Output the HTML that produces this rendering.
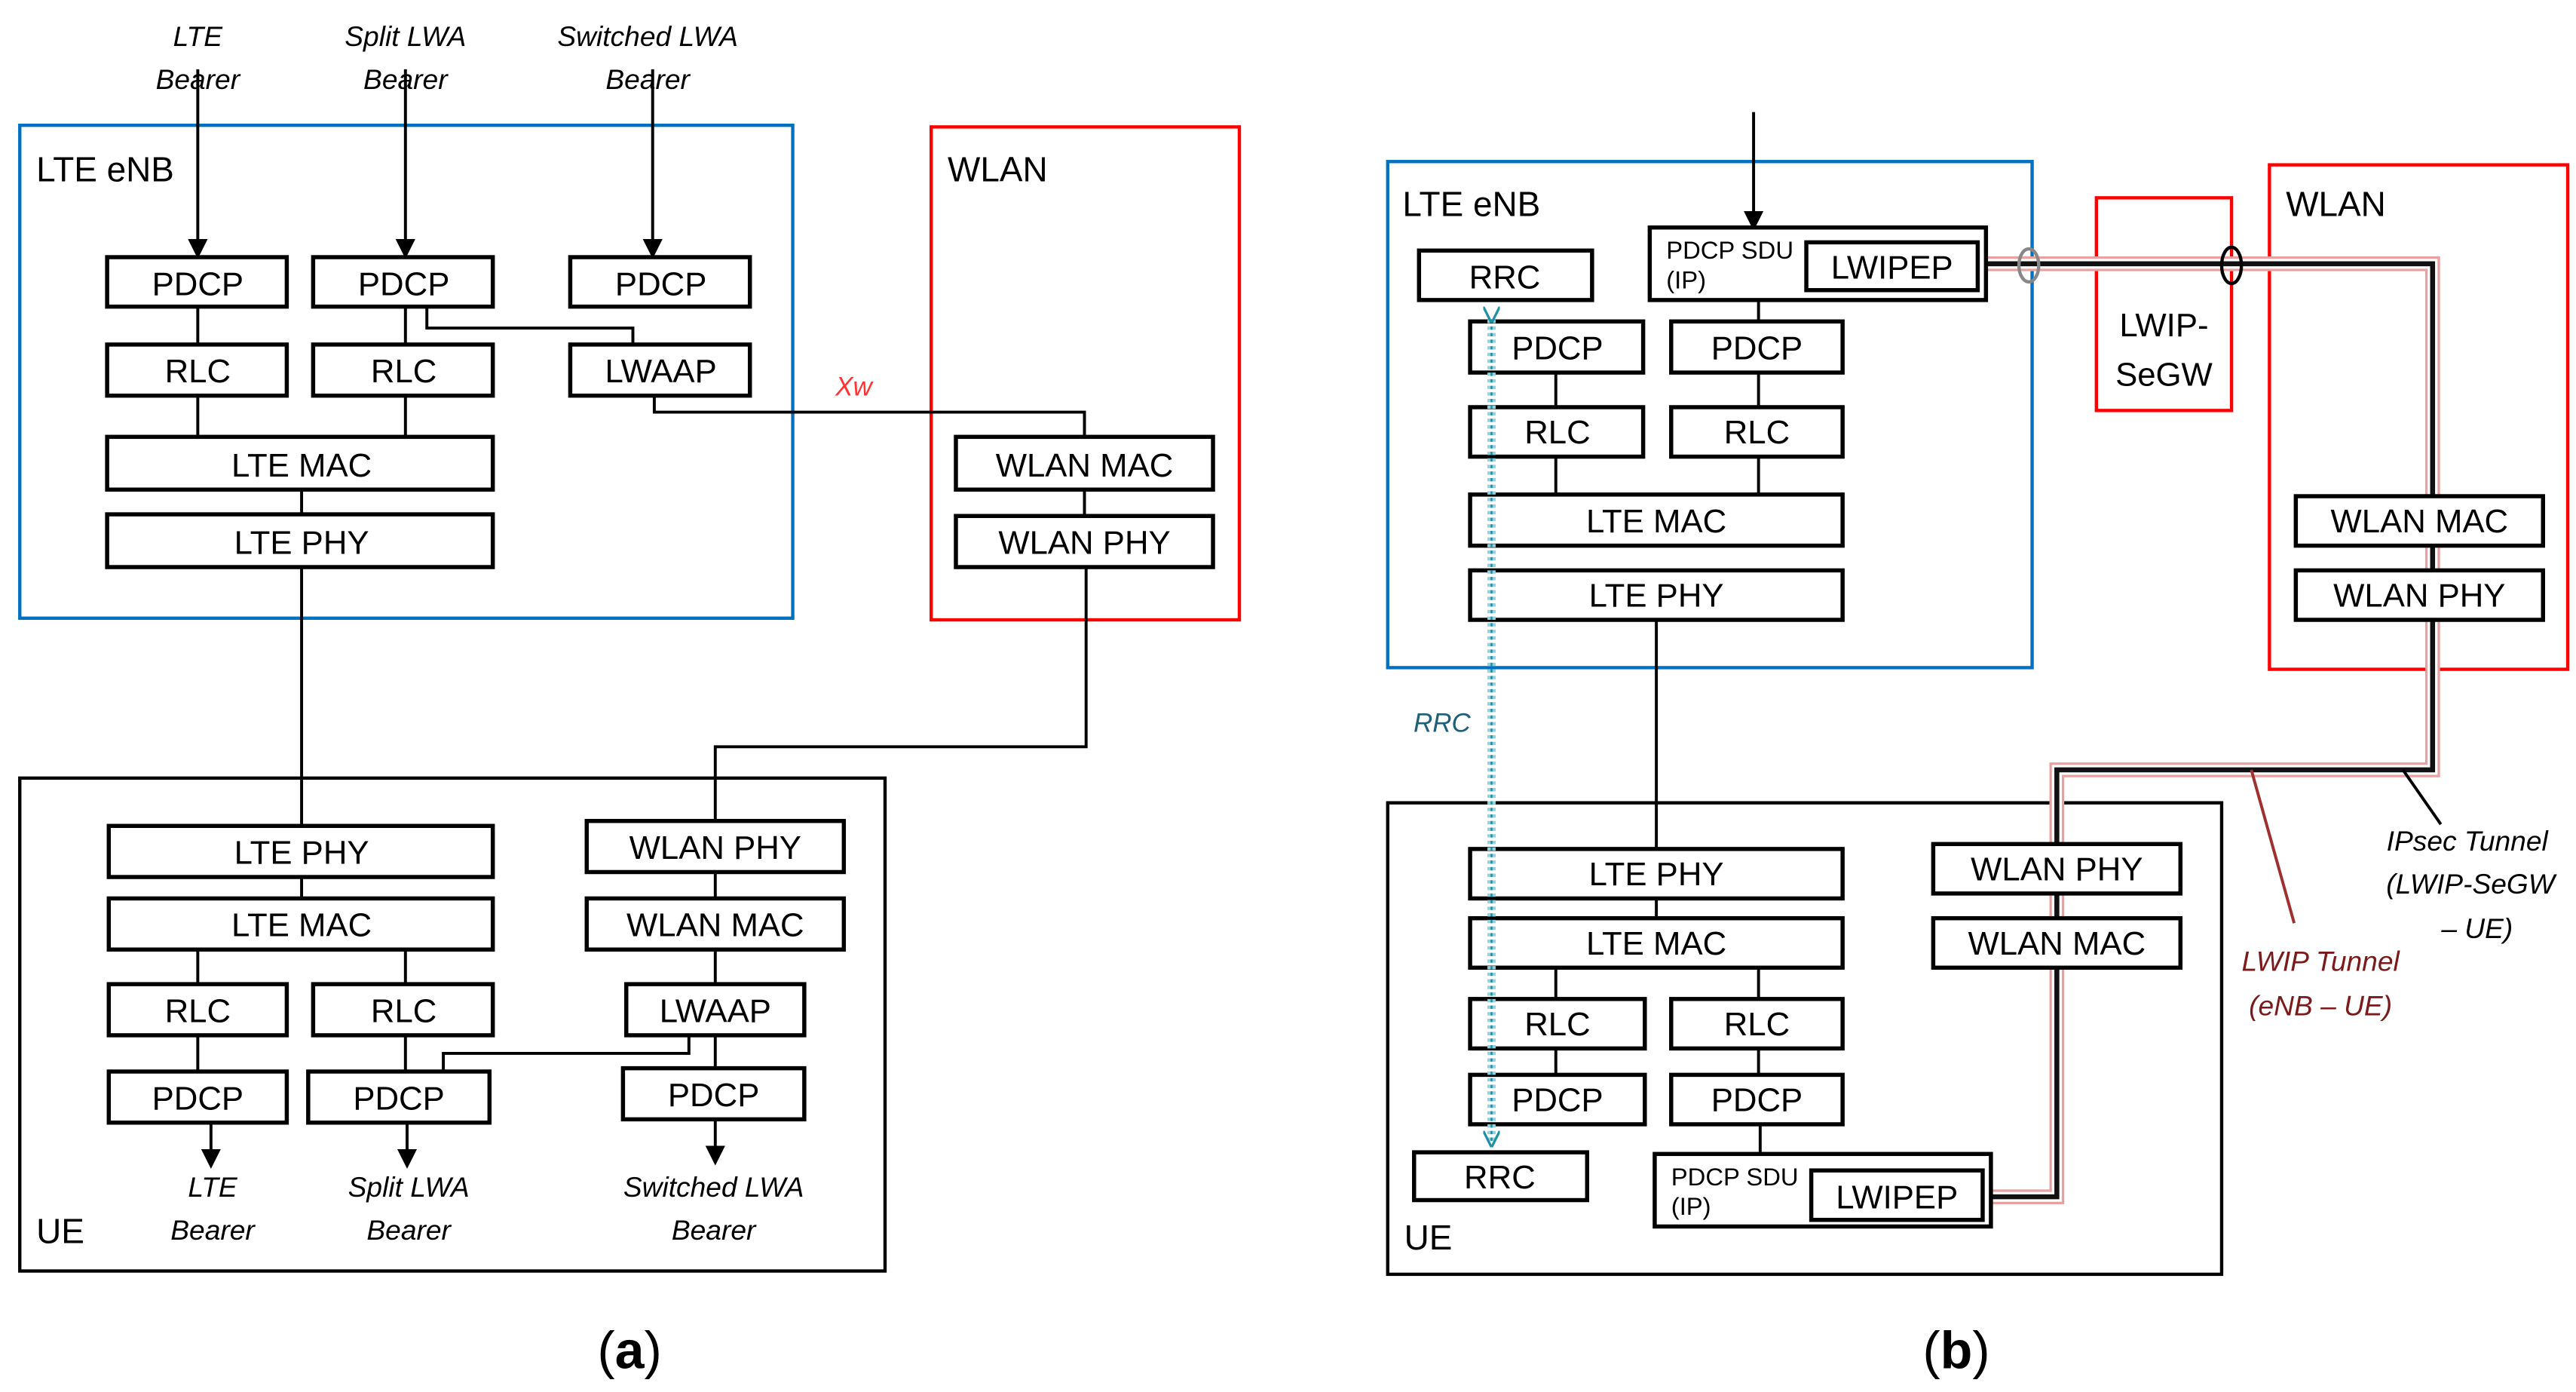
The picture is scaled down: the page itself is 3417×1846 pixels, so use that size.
<!DOCTYPE html>
<html><head><meta charset="utf-8"><style>
html,body{margin:0;padding:0;background:#fff;}
svg{display:block;}
text{font-family:"Liberation Sans",sans-serif;}
.b{fill:#fff;stroke:#000;stroke-width:2.5;}
.t{font-size:20px;text-anchor:middle;}
.i{font-size:17px;font-style:italic;text-anchor:middle;}
.l{stroke:#000;stroke-width:1.8;fill:none;}
</style></head><body>
<svg width="3417" height="1846" viewBox="0 0 1563 844.4" xmlns="http://www.w3.org/2000/svg">
<defs>
<marker id="ar" markerWidth="12" markerHeight="12" refX="10" refY="6" orient="auto" markerUnits="userSpaceOnUse" viewBox="0 0 12 12"><path d="M0,0 L12,6 L0,12 z" fill="#000"/></marker>
<marker id="ra" markerWidth="10" markerHeight="10" refX="8" refY="5" orient="auto" markerUnits="userSpaceOnUse" viewBox="0 0 10 10"><path d="M0,0 L10,5 L0,10" fill="none" stroke="#2090a8" stroke-width="1.5"/></marker>
</defs>
<!-- ===== Panel (a) ===== -->
<rect x="12" y="76" width="469" height="299" fill="none" stroke="#0070c0" stroke-width="2"/>
<text x="22" y="110" font-size="21">LTE eNB</text>
<rect x="565" y="77" width="187" height="299" fill="none" stroke="#f00" stroke-width="2"/>
<text x="575" y="110" font-size="21">WLAN</text>
<text class="i" x="120" y="28">LTE</text><text class="i" x="120" y="54">Bearer</text>
<text class="i" x="246" y="28">Split LWA</text><text class="i" x="246" y="54">Bearer</text>
<text class="i" x="393" y="28">Switched LWA</text><text class="i" x="393" y="54">Bearer</text>
<line class="l" x1="120" y1="42" x2="120" y2="155" marker-end="url(#ar)"/>
<line class="l" x1="246" y1="42" x2="246" y2="155" marker-end="url(#ar)"/>
<line class="l" x1="396" y1="42" x2="396" y2="155" marker-end="url(#ar)"/>
<path class="l" d="M120 186V209M246 186V209M259 186V199H384V209M120 240V265M246 240V265M183 297V312M397 240V250H658V265M658 297V313M183 344V501M659 344V453H434V498"/>
<text x="518" y="240" font-size="16" font-style="italic" fill="#f33" text-anchor="middle">Xw</text>
<rect class="b" x="65" y="156" width="109" height="30"/><text class="t" x="120" y="179">PDCP</text>
<rect class="b" x="190" y="156" width="109" height="30"/><text class="t" x="245" y="179">PDCP</text>
<rect class="b" x="346" y="156" width="109" height="30"/><text class="t" x="401" y="179">PDCP</text>
<rect class="b" x="65" y="209" width="109" height="31"/><text class="t" x="120" y="232">RLC</text>
<rect class="b" x="190" y="209" width="109" height="31"/><text class="t" x="245" y="232">RLC</text>
<rect class="b" x="346" y="209" width="109" height="31"/><text class="t" x="401" y="232">LWAAP</text>
<rect class="b" x="65" y="265" width="234" height="32"/><text class="t" x="183" y="289">LTE MAC</text>
<rect class="b" x="65" y="312" width="234" height="32"/><text class="t" x="183" y="336">LTE PHY</text>
<rect class="b" x="580" y="265" width="156" height="32"/><text class="t" x="658" y="289">WLAN MAC</text>
<rect class="b" x="580" y="313" width="156" height="31"/><text class="t" x="658" y="336">WLAN PHY</text>
<rect x="12" y="472" width="525" height="299" fill="none" stroke="#000" stroke-width="2"/>
<text x="22" y="754" font-size="21">UE</text>
<path class="l" d="M183 532V545M120 576V597M246 576V597M120 628V650M246 628V650M434 529V545M434 576V597M418 628V639H269V650M434 628V648"/>
<line class="l" x1="128" y1="681" x2="128" y2="707" marker-end="url(#ar)"/>
<line class="l" x1="247" y1="681" x2="247" y2="707" marker-end="url(#ar)"/>
<line class="l" x1="434" y1="679" x2="434" y2="705" marker-end="url(#ar)"/>
<rect class="b" x="66" y="501" width="233" height="31"/><text class="t" x="183" y="524">LTE PHY</text>
<rect class="b" x="66" y="545" width="233" height="31"/><text class="t" x="183" y="568">LTE MAC</text>
<rect class="b" x="66" y="597" width="108" height="31"/><text class="t" x="120" y="620">RLC</text>
<rect class="b" x="190" y="597" width="109" height="31"/><text class="t" x="245" y="620">RLC</text>
<rect class="b" x="66" y="650" width="108" height="31"/><text class="t" x="120" y="673">PDCP</text>
<rect class="b" x="187" y="650" width="110" height="31"/><text class="t" x="242" y="673">PDCP</text>
<rect class="b" x="356" y="498" width="156" height="31"/><text class="t" x="434" y="521">WLAN PHY</text>
<rect class="b" x="356" y="545" width="156" height="31"/><text class="t" x="434" y="568">WLAN MAC</text>
<rect class="b" x="380" y="597" width="108" height="31"/><text class="t" x="434" y="620">LWAAP</text>
<rect class="b" x="378" y="648" width="110" height="31"/><text class="t" x="433" y="671">PDCP</text>
<text class="i" x="129" y="726">LTE</text><text class="i" x="129" y="752">Bearer</text>
<text class="i" x="248" y="726">Split LWA</text><text class="i" x="248" y="752">Bearer</text>
<text class="i" x="433" y="726">Switched LWA</text><text class="i" x="433" y="752">Bearer</text>
<text x="382" y="830" font-size="32" text-anchor="middle" font-family="Liberation Serif,serif">(<tspan font-weight="bold">a</tspan>)</text>
<!-- ===== Panel (b) ===== -->
<rect x="842" y="98" width="391" height="307" fill="none" stroke="#0070c0" stroke-width="2"/>
<text x="851" y="131" font-size="21">LTE eNB</text>
<rect x="1272" y="120" width="82" height="129" fill="none" stroke="#f00" stroke-width="2"/>
<text class="t" x="1313" y="204">LWIP-</text><text class="t" x="1313" y="234">SeGW</text>
<rect x="1377" y="100" width="181" height="306" fill="none" stroke="#f00" stroke-width="2"/>
<text x="1387" y="131" font-size="21">WLAN</text>
<rect x="842" y="487" width="506" height="286" fill="none" stroke="#000" stroke-width="2"/>
<text x="852" y="758" font-size="21">UE</text>
<line class="l" x1="1064" y1="68" x2="1064" y2="138" marker-end="url(#ar)"/>
<path class="l" d="M1067 182V195M944 226V247M1067 226V247M944 277V300M1067 277V300M1005 376V515M1005 545V557M944 587V606M1067 587V606M944 636V652M1067 636V652M1068 682V700M1248 542V557"/>
<!-- tunnel -->
<path d="M1205 160H1476V467H1248V726H1209" fill="none" stroke="#e8a0a0" stroke-width="9"/>
<path d="M1205 160H1476V467H1248V726H1209" fill="none" stroke="#fff" stroke-width="6"/>
<path d="M1205 160H1476V467H1248V726H1209" fill="none" stroke="#111" stroke-width="3"/>
<line x1="1458" y1="467" x2="1481" y2="500" stroke="#000" stroke-width="1.8"/>
<line x1="1366" y1="467" x2="1392" y2="560" stroke="#a03030" stroke-width="1.8"/>
<ellipse cx="1231" cy="161" rx="6" ry="10" fill="none" stroke="#888" stroke-width="2"/>
<ellipse cx="1354" cy="161" rx="6" ry="11" fill="none" stroke="#000" stroke-width="2"/>
<text x="875" y="444" font-size="16" font-style="italic" fill="#1f5f7a" text-anchor="middle">RRC</text>
<rect class="b" x="1001" y="138" width="204" height="44" stroke="#555"/>
<text x="1011" y="157" font-size="15">PDCP SDU</text><text x="1011" y="175" font-size="15">(IP)</text>
<rect class="b" x="1096" y="147" width="104" height="29"/><text class="t" x="1148" y="169">LWIPEP</text>
<rect class="b" x="861" y="152" width="105" height="30"/><text class="t" x="913" y="175">RRC</text>
<rect class="b" x="892" y="195" width="105" height="31"/><text class="t" x="945" y="218">PDCP</text>
<rect class="b" x="1014" y="195" width="104" height="31"/><text class="t" x="1066" y="218">PDCP</text>
<rect class="b" x="892" y="247" width="105" height="30"/><text class="t" x="945" y="269">RLC</text>
<rect class="b" x="1014" y="247" width="104" height="30"/><text class="t" x="1066" y="269">RLC</text>
<rect class="b" x="892" y="300" width="226" height="31"/><text class="t" x="1005" y="323">LTE MAC</text>
<rect class="b" x="892" y="346" width="226" height="30"/><text class="t" x="1005" y="368">LTE PHY</text>
<rect class="b" x="1393" y="301" width="150" height="30"/><text class="t" x="1468" y="323">WLAN MAC</text>
<rect class="b" x="1393" y="346" width="150" height="30"/><text class="t" x="1468" y="368">WLAN PHY</text>
<rect class="b" x="892" y="515" width="226" height="30"/><text class="t" x="1005" y="537">LTE PHY</text>
<rect class="b" x="892" y="557" width="226" height="30"/><text class="t" x="1005" y="579">LTE MAC</text>
<rect class="b" x="892" y="606" width="106" height="30"/><text class="t" x="945" y="628">RLC</text>
<rect class="b" x="1014" y="606" width="104" height="30"/><text class="t" x="1066" y="628">RLC</text>
<rect class="b" x="892" y="652" width="106" height="30"/><text class="t" x="945" y="674">PDCP</text>
<rect class="b" x="1014" y="652" width="104" height="30"/><text class="t" x="1066" y="674">PDCP</text>
<rect class="b" x="858" y="699" width="105" height="29"/><text class="t" x="910" y="721">RRC</text>
<rect class="b" x="1004" y="700" width="204" height="44" stroke="#555"/>
<text x="1014" y="719" font-size="15">PDCP SDU</text><text x="1014" y="737" font-size="15">(IP)</text>
<rect class="b" x="1099" y="710" width="104" height="30"/><text class="t" x="1151" y="733">LWIPEP</text>
<rect class="b" x="1173" y="512" width="150" height="30"/><text class="t" x="1248" y="534">WLAN PHY</text>
<rect class="b" x="1173" y="557" width="150" height="30"/><text class="t" x="1248" y="579">WLAN MAC</text>
<!-- RRC dotted (on top) -->
<line x1="905" y1="194" x2="905" y2="694" stroke="#8fd3e0" stroke-width="5" stroke-dasharray="2 2"/>
<line x1="905" y1="194" x2="905" y2="694" stroke="#2090a8" stroke-width="1.2" stroke-dasharray="2 2" marker-start="url(#ra)" marker-end="url(#ra)"/>
<text class="i" x="1497" y="516">IPsec Tunnel</text>
<text class="i" x="1499" y="542">(LWIP-SeGW</text>
<text class="i" x="1503" y="569">– UE)</text>
<text class="i" x="1408" y="589" fill="#7a1a1a">LWIP Tunnel</text>
<text class="i" x="1408" y="616" fill="#7a1a1a">(eNB – UE)</text>
<text x="1187" y="830" font-size="32" text-anchor="middle" font-family="Liberation Serif,serif">(<tspan font-weight="bold">b</tspan>)</text>
</svg>
</body></html>
